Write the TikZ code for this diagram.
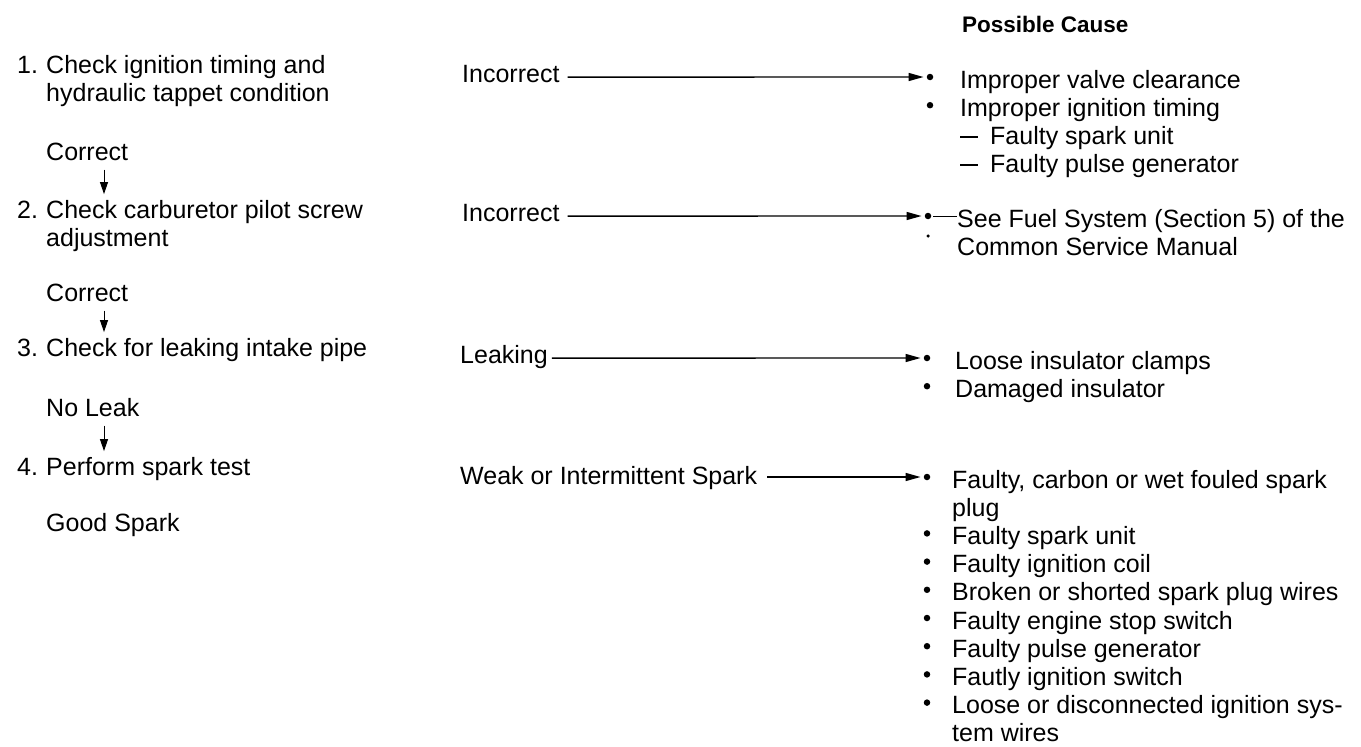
\documentclass[tikz,border=0pt]{standalone}
\usepackage{fontspec}
\setmainfont{Liberation Sans}
\usetikzlibrary{arrows.meta}
\newcommand\fs{\fontsize{25}{28.2}\selectfont}
\newcommand\mydash{\rule[6.5pt]{18pt}{2pt}\hspace{12pt}}
\begin{document}
\begin{tikzpicture}[x=1pt,y=-1pt,
  txt/.style={font=\fs, inner sep=0pt, anchor=north west, align=left},
  bul/.style={circle, fill, inner sep=0pt, minimum size=6.5pt},
  harrow/.style={line width=1.4pt, -{Triangle[length=15pt,width=8pt]}, shorten >=3pt},
  varrow/.style={line width=1pt, -{Triangle[length=12pt,width=8pt]}, shorten <=1pt, shorten >=4pt}
]
\useasboundingbox (0,0) rectangle (1361,747);
% ---------------- left column
\node[txt] (n1) at (17,53.1) {\strut 1.};
\node[txt] (s1) at (46,53.1) {\strut Check ignition timing and\\hydraulic tappet condition};
\node[txt] (c1) at (46,140.1) {\strut Correct};
\node[txt] (n2) at (17,198.1) {\strut 2.};
\node[txt] (s2) at (46,198.1) {\strut Check carburetor pilot screw\\adjustment};
\node[txt] (c2) at (46,281.1) {\strut Correct};
\node[txt] (n3) at (17,336.1) {\strut 3.};
\node[txt] (s3) at (46,336.1) {\strut Check for leaking intake pipe};
\node[txt] (c3) at (46,396.1) {\strut No Leak};
\node[txt] (n4) at (17,455.1) {\strut 4.};
\node[txt] (s4) at (46,455.1) {\strut Perform spark test};
\node[txt] (c4) at (46,511.1) {\strut Good Spark};
\coordinate (ax) at (104,0);
\draw[varrow] (c1.south -| ax) -- (s2.north -| ax);
\draw[varrow] (c2.south -| ax) -- (s3.north -| ax);
\draw[varrow] (c3.south -| ax) -- (s4.north -| ax);
% ---------------- middle labels
\node[txt] (l1) at (462,62.8) {\strut Incorrect};
\node[txt] (l2) at (462,201.8) {\strut Incorrect};
\node[txt] (l3) at (460,343.8) {\strut Leaking};
\node[txt] (l4) at (460,464.8) {\strut Weak or Intermittent Spark};
% ---------------- heading
\node[anchor=base west, inner sep=0pt, font=\fontsize{22.5}{27}\selectfont\bfseries] (pc) at (962,32) {Possible Cause};
% ---------------- bullets
\node[bul] (b1) at (930,77) {};
\node[bul] (b1b) at (930,105.2) {};
\node[bul] (b2) at (928,216) {};
\node[circle, fill, inner sep=0pt, minimum size=3.5pt] (b2s) at (928,236) {};
\node[bul] (b3) at (927,358) {};
\node[bul] (b3b) at (927,386.2) {};
\node[bul] (b4) at (927,477) {};
\foreach \k in {2,...,8} {\node[bul] (b4-\k) at (927,477+28.2*\k) {};}
% ---------------- causes
\node[txt] (g1) at (960,68.1) {\strut Improper valve clearance\\Improper ignition timing\\\mydash Faulty spark unit\\\mydash Faulty pulse generator};
\node[txt] (g2) at (957,207.1) {\strut See Fuel System (Section 5) of the\\Common Service Manual};
\node[txt] (g3) at (955,349.1) {\strut Loose insulator clamps\\Damaged insulator};
\node[txt] (g4) at (952,468.1) {\strut Faulty, carbon or wet fouled spark\\plug\\Faulty spark unit\\Faulty ignition coil\\Broken or shorted spark plug wires\\Faulty engine stop switch\\Faulty pulse generator\\Fautly ignition switch\\Loose or disconnected ignition sys-\\tem wires};
% ---------------- connectors
\draw[harrow] ([xshift=8pt]l1.east) -- (b1);
\draw[harrow] ([xshift=8pt]l2.east) -- (b2);
\draw[harrow] ([xshift=4pt]l3.east) -- (b3);
\draw[harrow] ([xshift=10pt]l4.east |- b4) -- (b4);
\draw[line width=0.8pt] (b2.east) ++(2pt,0) -- (g2.west |- b2);
\end{tikzpicture}
\end{document}
